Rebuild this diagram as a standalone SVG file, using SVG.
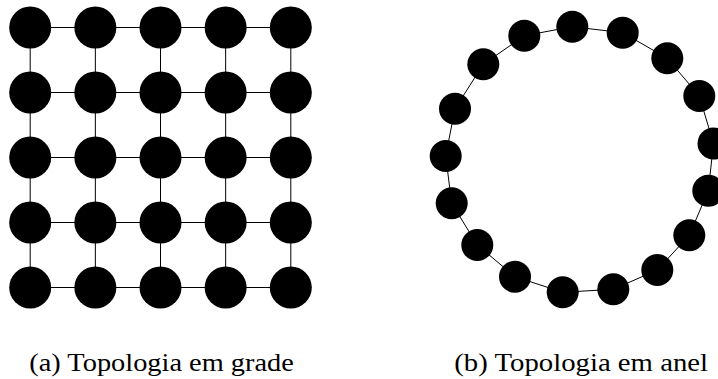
<svg xmlns="http://www.w3.org/2000/svg" width="718" height="379" viewBox="0 0 718 379">
<style>
.edge{stroke:#000;stroke-width:1;fill:none}
.gn{fill:#000}
.rn{fill:#000}
</style>
<rect width="718" height="379" fill="#fff"/>
<g id="connectors">
<g id="grid-edges" class="edge">
<line x1="30.2" y1="27.5" x2="290.8" y2="27.5"/>
<line x1="30.2" y1="92.5" x2="290.8" y2="92.5"/>
<line x1="30.2" y1="157.5" x2="290.8" y2="157.5"/>
<line x1="30.2" y1="222.5" x2="290.8" y2="222.5"/>
<line x1="30.2" y1="287.5" x2="290.8" y2="287.5"/>
<line x1="30.2" y1="27.5" x2="30.2" y2="287.5"/>
<line x1="95.35" y1="27.5" x2="95.35" y2="287.5"/>
<line x1="160.5" y1="27.5" x2="160.5" y2="287.5"/>
<line x1="225.65" y1="27.5" x2="225.65" y2="287.5"/>
<line x1="290.8" y1="27.5" x2="290.8" y2="287.5"/>
</g>
<polygon id="ring-edges" class="edge" points="572.3,26.7 622.7,32.7 667.3,58.3 699.3,96 713.5,143.5 708.3,190.7 689.3,235.3 657.3,270 613.3,289.3 562.7,292.3 515,276.7 477.3,245 451.7,203.3 445.7,156 455,108.7 483.3,64.3 524.3,35.7"/>
</g>
<g id="grid-nodes">
<g id="g00"><circle class="gn" cx="30.2" cy="27.5" r="21"/></g>
<g id="g01"><circle class="gn" cx="95.35" cy="27.5" r="21"/></g>
<g id="g02"><circle class="gn" cx="160.5" cy="27.5" r="21"/></g>
<g id="g03"><circle class="gn" cx="225.65" cy="27.5" r="21"/></g>
<g id="g04"><circle class="gn" cx="290.8" cy="27.5" r="21"/></g>
<g id="g10"><circle class="gn" cx="30.2" cy="92.5" r="21"/></g>
<g id="g11"><circle class="gn" cx="95.35" cy="92.5" r="21"/></g>
<g id="g12"><circle class="gn" cx="160.5" cy="92.5" r="21"/></g>
<g id="g13"><circle class="gn" cx="225.65" cy="92.5" r="21"/></g>
<g id="g14"><circle class="gn" cx="290.8" cy="92.5" r="21"/></g>
<g id="g20"><circle class="gn" cx="30.2" cy="157.5" r="21"/></g>
<g id="g21"><circle class="gn" cx="95.35" cy="157.5" r="21"/></g>
<g id="g22"><circle class="gn" cx="160.5" cy="157.5" r="21"/></g>
<g id="g23"><circle class="gn" cx="225.65" cy="157.5" r="21"/></g>
<g id="g24"><circle class="gn" cx="290.8" cy="157.5" r="21"/></g>
<g id="g30"><circle class="gn" cx="30.2" cy="222.5" r="21"/></g>
<g id="g31"><circle class="gn" cx="95.35" cy="222.5" r="21"/></g>
<g id="g32"><circle class="gn" cx="160.5" cy="222.5" r="21"/></g>
<g id="g33"><circle class="gn" cx="225.65" cy="222.5" r="21"/></g>
<g id="g34"><circle class="gn" cx="290.8" cy="222.5" r="21"/></g>
<g id="g40"><circle class="gn" cx="30.2" cy="287.5" r="21"/></g>
<g id="g41"><circle class="gn" cx="95.35" cy="287.5" r="21"/></g>
<g id="g42"><circle class="gn" cx="160.5" cy="287.5" r="21"/></g>
<g id="g43"><circle class="gn" cx="225.65" cy="287.5" r="21"/></g>
<g id="g44"><circle class="gn" cx="290.8" cy="287.5" r="21"/></g>
</g>
<g id="ring-nodes">
<g id="r01"><circle class="rn" cx="572.3" cy="26.7" r="16"/></g>
<g id="r02"><circle class="rn" cx="622.7" cy="32.7" r="16"/></g>
<g id="r03"><circle class="rn" cx="667.3" cy="58.3" r="16"/></g>
<g id="r04"><circle class="rn" cx="699.3" cy="96" r="16"/></g>
<g id="r05"><circle class="rn" cx="713.5" cy="143.5" r="16"/></g>
<g id="r06"><circle class="rn" cx="708.3" cy="190.7" r="16"/></g>
<g id="r07"><circle class="rn" cx="689.3" cy="235.3" r="16"/></g>
<g id="r08"><circle class="rn" cx="657.3" cy="270" r="16"/></g>
<g id="r09"><circle class="rn" cx="613.3" cy="289.3" r="16"/></g>
<g id="r10"><circle class="rn" cx="562.7" cy="292.3" r="16"/></g>
<g id="r11"><circle class="rn" cx="515" cy="276.7" r="16"/></g>
<g id="r12"><circle class="rn" cx="477.3" cy="245" r="16"/></g>
<g id="r13"><circle class="rn" cx="451.7" cy="203.3" r="16"/></g>
<g id="r14"><circle class="rn" cx="445.7" cy="156" r="16"/></g>
<g id="r15"><circle class="rn" cx="455" cy="108.7" r="16"/></g>
<g id="r16"><circle class="rn" cx="483.3" cy="64.3" r="16"/></g>
<g id="r17"><circle class="rn" cx="524.3" cy="35.7" r="16"/></g>
</g>
<g id="captions" font-family="Liberation Serif" font-size="25" fill="#000">
<text x="0" y="0" transform="translate(29.3,371) scale(1.135,1)">(a) Topologia em grade</text>
<text x="0" y="0" transform="translate(454.3,371) scale(1.15,1)">(b) Topologia em anel</text>
</g>
</svg>
